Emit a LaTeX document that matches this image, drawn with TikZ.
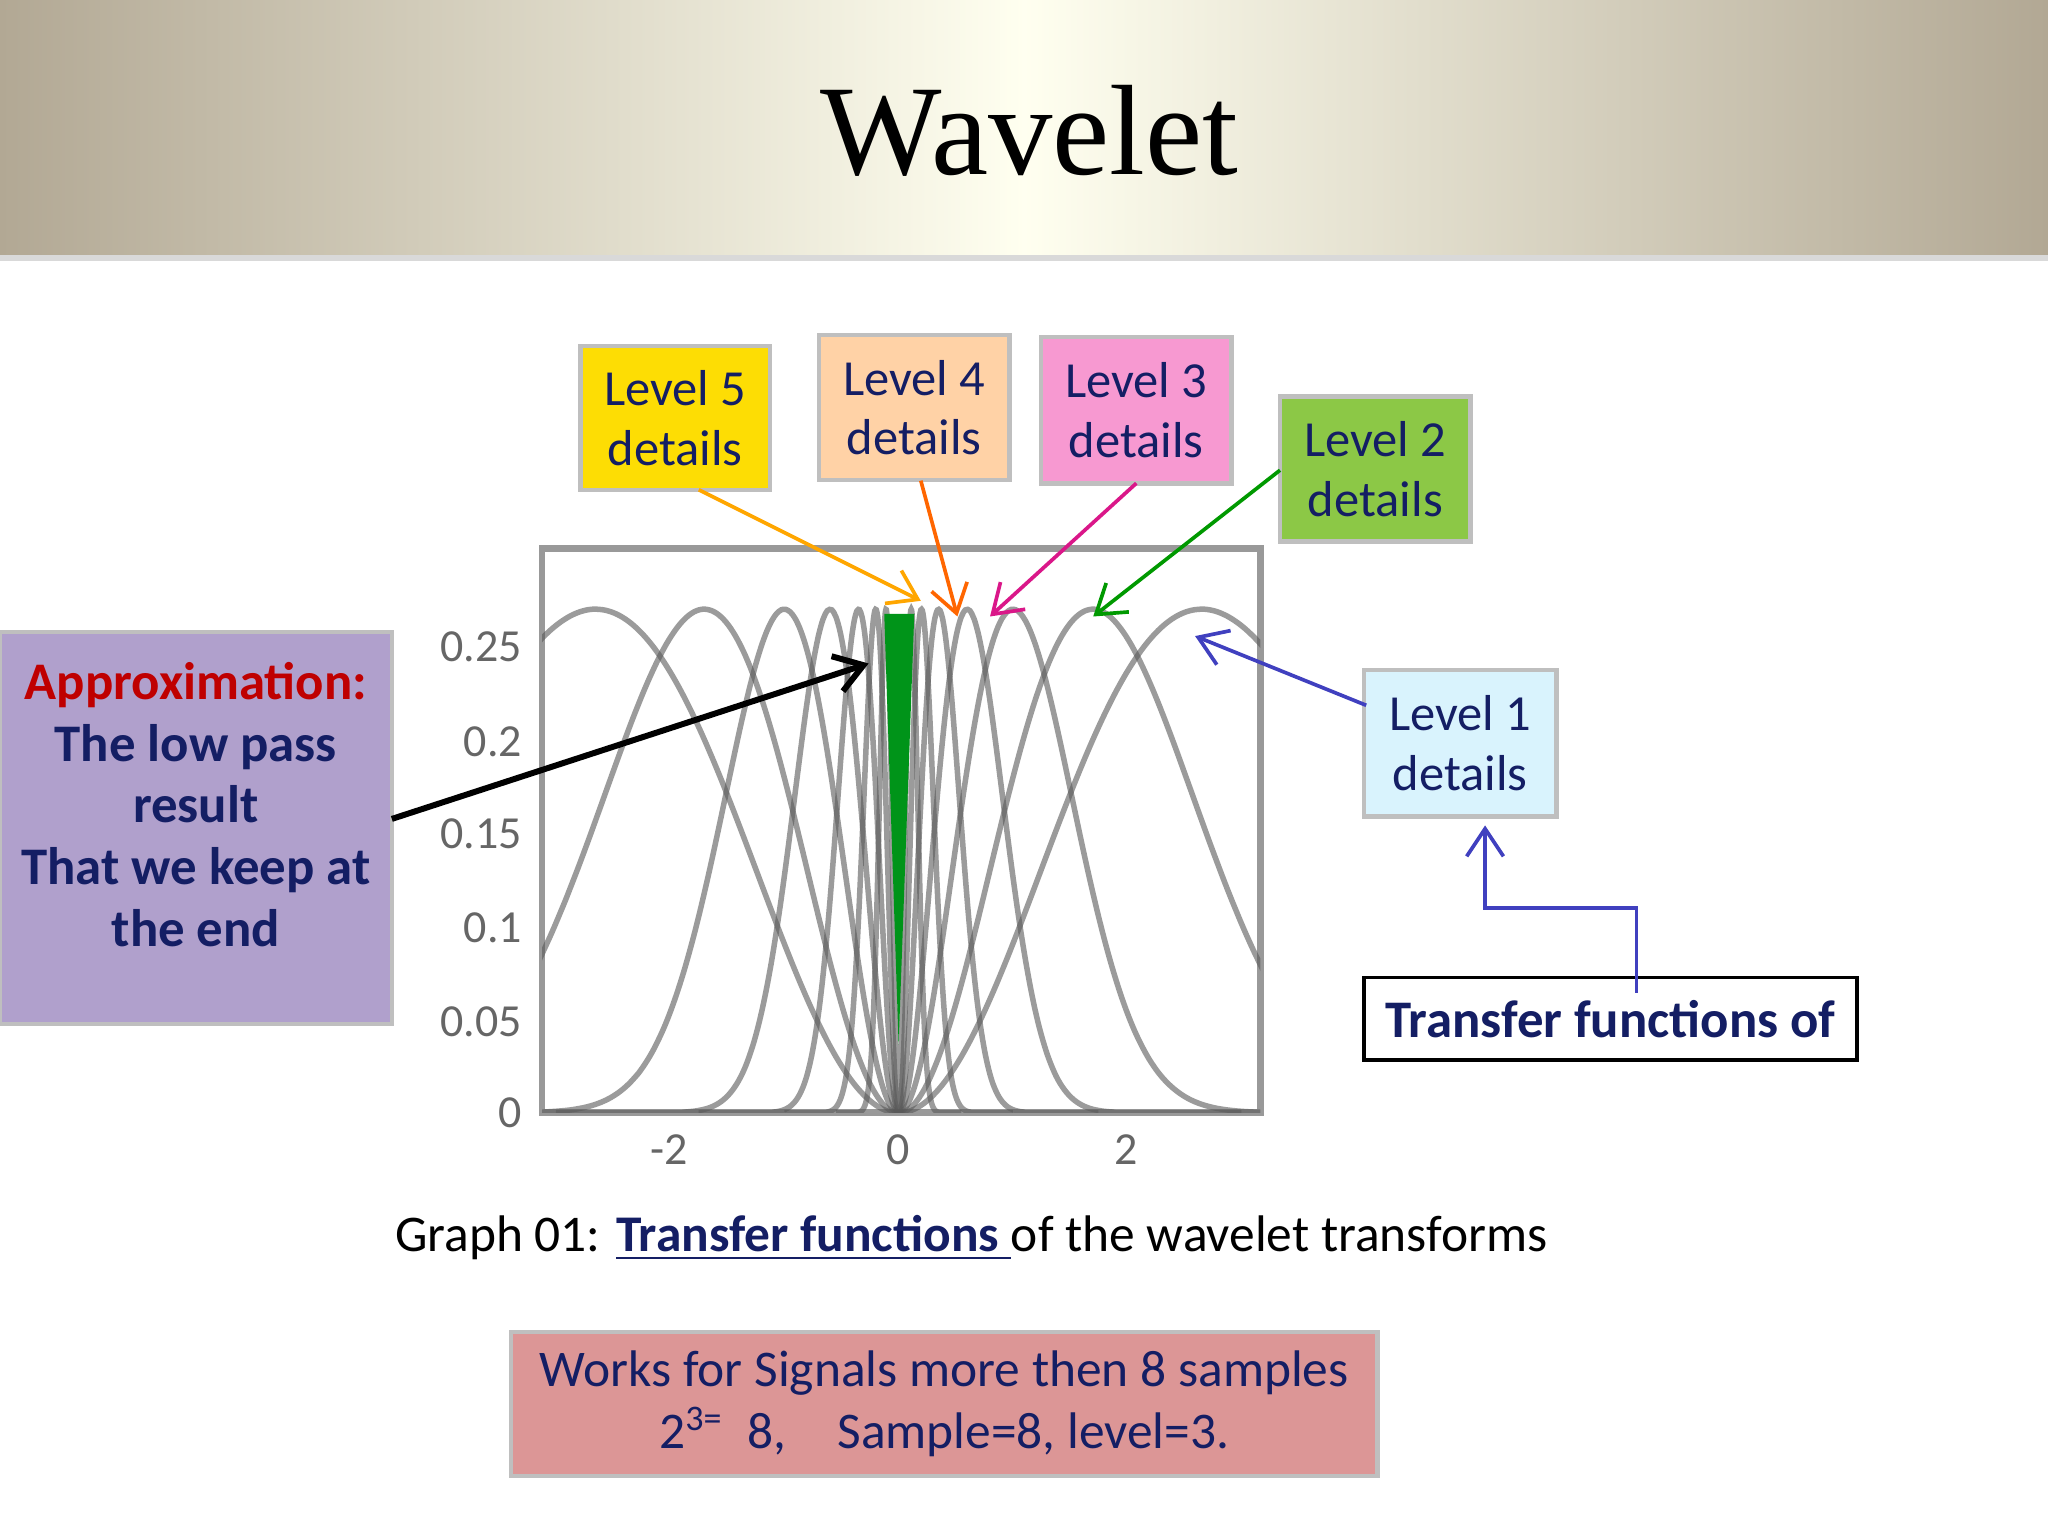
\documentclass[tikz,border=0pt]{standalone}
\usepackage{fontspec}
\setmainfont{Carlito}
\newfontfamily\titlefont{Liberation Serif}
\usetikzlibrary{arrows.meta}
\definecolor{navy}{RGB}{20,30,100}
\definecolor{hdr}{RGB}{178,168,148}
\definecolor{apc}{RGB}{176,160,204}
\definecolor{lv2}{RGB}{140,200,70}
\definecolor{btc}{RGB}{220,150,150}
\tikzset{
 lvl/.style={draw=black!25,line width=1pt,align=center,font=\fontsize{11}{13}\selectfont,text=navy,inner sep=0pt},
 conn/.style={-{Straight Barb[length=6pt,width=8pt]},line width=0.8pt},
 crv/.style={gray!70!black,line width=1.2pt,opacity=0.6}
}
\begin{document}
\begin{tikzpicture}[x=0.01cm,y=-0.01cm]
\useasboundingbox (0,0) rectangle (1568,1176);
\fill[white] (0,0) rectangle (1568,1176);
% header
\shade[left color=hdr, right color=hdr, middle color=yellow!6!white] (0,0) rectangle (1568,195);
\fill[black!15] (0,195) rectangle (1568,200);
\node (title) at (788,100) {\titlefont\fontsize{28}{30}\selectfont Wavelet};
% plot
\draw[black!40,line width=1.5pt] (415,420) rectangle (965,852);
\begin{scope}
\clip (415,420) rectangle (965,852);
\foreach \c in {2.65,1.7,1.0,0.6,0.35,0.2,0.11}{
  \pgfmathsetmacro{\lim}{min(3.2,5*\c)}
  \draw[crv] plot[domain=-\lim:\lim,samples=160,smooth] ({688+87.5*\x},{852-1428*0.27*(\x/\c)^2*exp(1-(\x/\c)^2)});
}
\end{scope}
\foreach \v/\yy in {0.25/495,0.2/568,0.15/638,0.1/710,0.05/782,0/852}
  \node[anchor=east,text=black!60,font=\fontsize{10}{12}\selectfont] at (412,\yy) {\v};
\foreach \v/\xx in {-2/512,0/688,2/862}
  \node[text=black!60,font=\fontsize{10}{12}\selectfont] at (\xx,880) {\v};
\fill[green!60!black!80!teal] (677,470) -- (700,470) -- (688,800) -- cycle;
% boxes
\node[lvl,fill=yellow!80!orange,minimum width=1.45cm,minimum height=1.10cm] (l5) at (517,320) {Level 5\\ details};
\node[lvl,fill=orange!35!white,minimum width=1.46cm,minimum height=1.11cm] (l4) at (700,312) {Level 4\\ details};
\node[lvl,fill=magenta!40!white,minimum width=1.46cm,minimum height=1.12cm] (l3) at (870,314) {Level 3\\ details};
\node[lvl,fill=lv2,minimum width=1.46cm,minimum height=1.11cm] (l2) at (1053,359) {Level 2\\ details};
\node[lvl,fill=cyan!15!white,minimum width=1.47cm,minimum height=1.12cm] (l1) at (1118,569) {Level 1\\ details};
\node[lvl,fill=apc,minimum width=3cm,minimum height=3cm] (ap) at (150,634) {};
\node[align=center,anchor=north,text=navy,font=\bfseries\fontsize{11.5}{13.4}\selectfont] (aptext) at (150,495) {\textcolor{red!75!black}{Approximation:}\\ The low pass\\ result\\ That we keep at\\ the end};
\node[draw=black,line width=0.8pt,minimum width=3.77cm,minimum height=0.63cm,text=navy,font=\bfseries\fontsize{11.5}{14}\selectfont] (tf) at (1233,780) {Transfer functions of};
\node[lvl,fill=btc,minimum width=6.63cm,minimum height=1.10cm,font=\fontsize{11.2}{13.5}\selectfont] (bt) at (723,1075) {Works for Signals more then 8 samples\\ 2\textsuperscript{3=}\ \ 8,\quad Sample=8, level=3.};
\node[anchor=west,font=\fontsize{11.2}{14}\selectfont] (cap) at (290,948) {Graph 01: \textcolor{navy}{\bfseries\underline{Transfer functions }}of the wavelet transforms};
% connectors
\coordinate (p5) at (705,460); \coordinate (p4) at (733,472);
\coordinate (p3) at (758,472); \coordinate (p2) at (837,472);
\coordinate (p1) at (915,487); \coordinate (pa) at (665,508);
\draw[conn,draw=orange!70!yellow] (535,375) -- (p5);
\draw[conn,draw=orange!80!red] (705,368) -- (p4);
\draw[conn,draw=magenta!80!violet] (870,370) -- (p3);
\draw[conn,draw=green!60!black] (980,360) -- (p2);
\draw[conn,draw=blue!50!gray] (1046,540) -- (p1);
\draw[conn,draw=black,line width=1.3pt] (300,627) -- (pa);
\draw[conn,draw=blue!50!gray] (1253,760) -- (1253,695) -- (1137,695) -- (1137,632);
\end{tikzpicture}
\end{document}
